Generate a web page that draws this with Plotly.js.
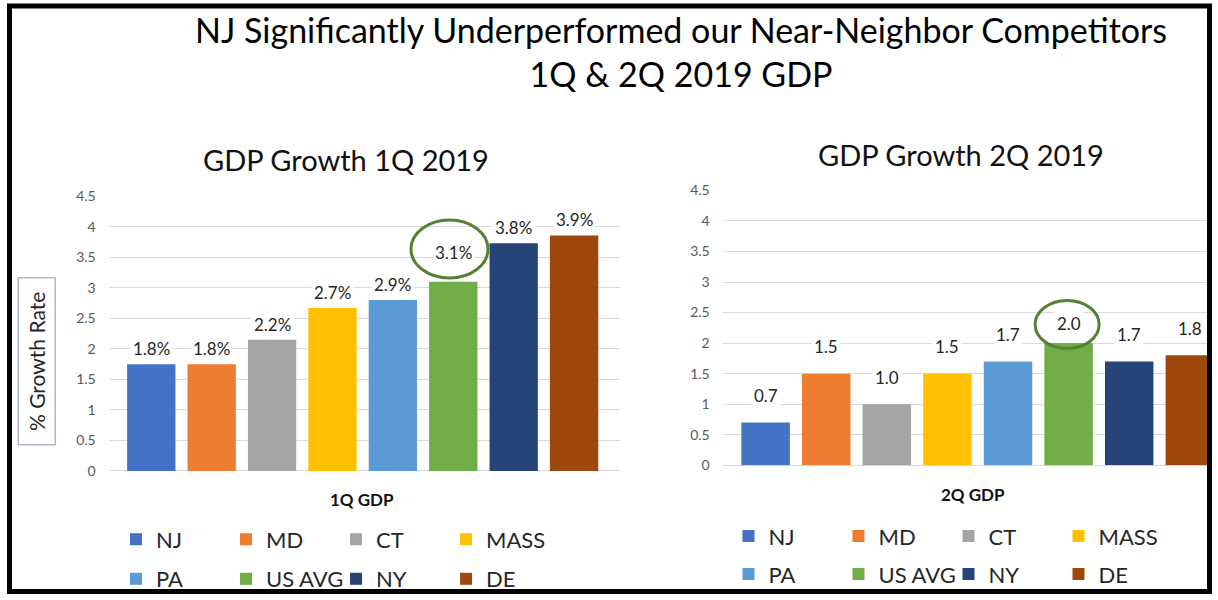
<!DOCTYPE html>
<html><head><meta charset="utf-8">
<script src="https://cdn.plot.ly/plotly-3.0.1.min.js"></script>
<style>html,body{margin:0;padding:0;background:#fff;overflow:hidden}#chart{width:1218px;height:600px}</style>
</head><body><div id="chart"></div>
<script>
// ---------- data ----------
const states = ['NJ', 'MD', 'CT', 'MASS', 'PA', 'US AVG', 'NY', 'DE'];
const gdp1Q = [1.75, 1.75, 2.15, 2.67, 2.8, 3.1, 3.73, 3.86];
const gdp1QLabels = ['1.8%', '1.8%', '2.2%', '2.7%', '2.9%', '3.1%', '3.8%', '3.9%'];
const gdp2Q = [0.7, 1.5, 1.0, 1.5, 1.7, 2.0, 1.7, 1.8];
const gdp2QLabels = ['0.7', '1.5', '1.0', '1.5', '1.7', '2.0', '1.7', '1.8'];
const highlighted = 'US AVG';
const yTickVals = [0, 0.5, 1, 1.5, 2, 2.5, 3, 3.5, 4, 4.5];
const yTickText = ['0', '0.5', '1', '1.5', '2', '2.5', '3', '3.5', '4', '4.5'];
const mainTitle = 'NJ Significantly Underperformed our Near-Neighbor Competitors<br>1Q &amp; 2Q 2019 GDP';
const chartTitles = ['GDP Growth 1Q 2019', 'GDP Growth 2Q 2019'];
const axisTitles = ['1Q GDP', '2Q GDP'];
const yTitle = '% Growth Rate';

// ---------- styles ----------
const colors = ['#4472C4', '#ED7D31', '#A5A5A5', '#FFC000', '#5B9BD5', '#70AD47', '#264478', '#9E480E'];
const FONT = 'Lato, "Open Sans", sans-serif';
const W = 1218, H = 600;
const px = v => v / W;
const py = v => 1 - v / H;

const charts = [
  { vals: gdp1Q, labels: gdp1QLabels, xa: 'x', ya: 'y', legA: 'legend', legB: 'legend2',
    xdom: [108.7, 620], xrange: [-0.705, 7.76], ydom: [475.7, 198.3],
    labelShift: 15.5, hiLabelShift: 29, ell: { dx: -3.8, dy: 32.7, rx: 38.5, ry: 29 },
    title: { x: 346, y: 161 }, axTitle: { x: 362, y: 505 },
    leg: { x: 136, rows: [545, 585] } },
  { vals: gdp2Q, labels: gdp2QLabels, xa: 'x2', ya: 'y2', legA: 'legend3', legB: 'legend4',
    xdom: [722.7, 1210], xrange: [-0.708, 7.333], ydom: [470, 192.3],
    labelShift: 27, hiLabelShift: 19.3, ell: { dx: -1.5, dy: 18.6, rx: 32, ry: 24 },
    title: { x: 960.5, y: 156 }, axTitle: { x: 973, y: 499 },
    leg: { x: 748.5, rows: [541.7, 580] } }
];

const traces = [];
const annotations = [];
const shapes = [];
const layout = {
  width: W, height: H,
  margin: { l: 0, r: 0, t: 0, b: 0 },
  paper_bgcolor: '#fff', plot_bgcolor: '#fff',
  barmode: 'overlay', bargap: 0.2,
  font: { family: FONT, color: '#404040' },
  title: { text: mainTitle, x: px(681), xanchor: 'center', xref: 'container',
           y: 1 - 43 / H, yanchor: 'top', yref: 'container',
           font: { family: FONT, size: 34, color: '#000' } },
  hovermode: false
};

const hiIdx = states.indexOf(highlighted);

charts.forEach((c, ci) => {
  const sfx = ci === 0 ? '' : '2';
  layout['xaxis' + sfx] = {
    type: 'category', categoryorder: 'array', categoryarray: states,
    domain: [px(c.xdom[0]), px(c.xdom[1])], range: c.xrange, anchor: c.ya,
    showticklabels: false, showgrid: false, zeroline: false, showline: false, ticks: '',
    fixedrange: true
  };
  layout['yaxis' + sfx] = {
    domain: [py(c.ydom[0]), py(c.ydom[1])], range: [0, 4.5], anchor: c.xa,
    tickvals: yTickVals, ticktext: yTickText, ticks: '', ticklabelstandoff: 12,
    tickfont: { family: FONT, size: 14, color: '#595959' },
    showgrid: true, gridcolor: '#D9D9D9', gridwidth: 1,
    zeroline: true, zerolinecolor: '#D9D9D9', zerolinewidth: 1,
    showline: false, fixedrange: true
  };
  states.forEach((s, i) => {
    traces.push({
      type: 'bar', x: [s], y: [c.vals[i]], name: s,
      xaxis: c.xa, yaxis: c.ya,
      legend: i < 4 ? c.legA : c.legB,
      marker: { color: colors[i] },
      hoverinfo: 'skip'
    });
    const isHi = i === hiIdx;
    annotations.push({
      xref: c.xa, yref: c.ya, x: i, y: c.vals[i], text: c.labels[i],
      showarrow: false, xanchor: 'center', yanchor: 'middle',
      yshift: isHi ? c.hiLabelShift : c.labelShift,
      bgcolor: '#fff', borderpad: 2,
      font: { family: FONT, size: 17, color: '#262626' }
    });
  });
  shapes.push({
    type: 'circle', xref: c.xa, yref: c.ya,
    xsizemode: 'pixel', ysizemode: 'pixel',
    xanchor: hiIdx, yanchor: c.vals[hiIdx],
    x0: c.ell.dx - c.ell.rx, x1: c.ell.dx + c.ell.rx,
    y0: c.ell.dy - c.ell.ry, y1: c.ell.dy + c.ell.ry,
    line: { color: '#548235', width: 3 }, fillcolor: 'rgba(0,0,0,0)', layer: 'above'
  });
  annotations.push({
    xref: 'paper', yref: 'paper', x: px(c.title.x), y: py(c.title.y),
    text: chartTitles[ci], showarrow: false, xanchor: 'center', yanchor: 'middle',
    font: { family: FONT, size: 29, color: '#111' }
  });
  annotations.push({
    xref: 'paper', yref: 'paper', x: px(c.axTitle.x), y: py(c.axTitle.y),
    text: '<b>' + axisTitles[ci] + '</b>', showarrow: false, xanchor: 'center', yanchor: 'middle',
    font: { family: FONT, size: 17, color: '#111' }
  });
  [c.legA, c.legB].forEach((ln, r) => {
    layout[ln] = {
      orientation: 'h', x: px(c.leg.x - 20), xanchor: 'left', xref: 'paper',
      y: py(c.leg.rows[r]), yanchor: 'middle', yref: 'paper',
      entrywidth: 65, entrywidthmode: 'pixels',
      font: { family: FONT, size: 22, color: '#262626' },
      bgcolor: 'rgba(0,0,0,0)', borderwidth: 0, traceorder: 'normal',
      itemclick: false, itemdoubleclick: false
    };
  });
});

annotations.push({
  xref: 'paper', yref: 'paper', x: px(37), y: py(365), text: yTitle,
  textangle: -90, showarrow: false, xanchor: 'center', yanchor: 'middle',
  width: 166, height: 36, borderpad: 0,
  bordercolor: '#8497B0', borderwidth: 1, bgcolor: '#fff',
  font: { family: FONT, size: 21, color: '#262626' }
});

shapes.push({
  type: 'rect', xref: 'paper', yref: 'paper',
  x0: px(9.5), x1: px(1209.5), y0: py(597.5), y1: py(6),
  line: { color: '#000', width: 5 }, fillcolor: 'rgba(0,0,0,0)', layer: 'above'
});

layout.annotations = annotations;
layout.shapes = shapes;

Plotly.newPlot('chart', traces, layout, { displayModeBar: false, staticPlot: true });
</script>
</body></html>
